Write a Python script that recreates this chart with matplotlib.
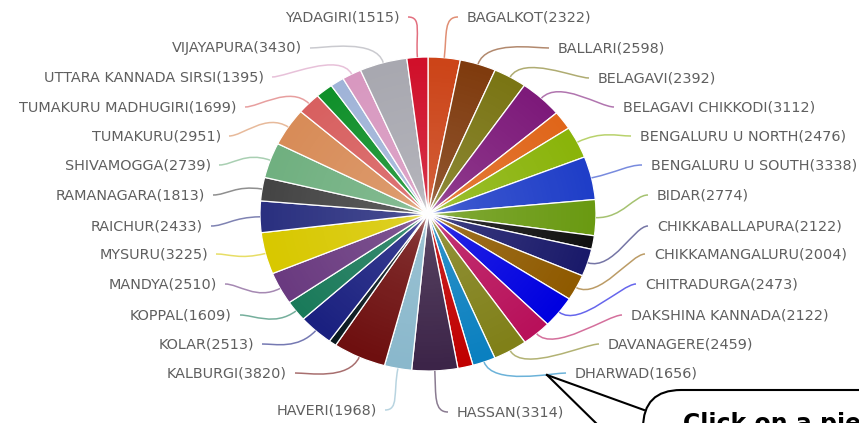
import numpy as np
import matplotlib
matplotlib.use("Agg")
import matplotlib.pyplot as plt
from matplotlib.path import Path
from matplotlib.patches import PathPatch, Circle, FancyBboxPatch

# district-wise counts, clockwise from the top
districts = ['BAGALKOT', 'BALLARI', 'BELAGAVI', 'BELAGAVI CHIKKODI', 'BENGALURU RURAL',
             'BENGALURU U NORTH', 'BENGALURU U SOUTH', 'BIDAR', 'CHAMARAJANAGAR',
             'CHIKKABALLAPURA', 'CHIKKAMANGALURU', 'CHITRADURGA', 'DAKSHINA KANNADA',
             'DAVANAGERE', 'DHARWAD', 'GADAG', 'HASSAN', 'HAVERI', 'KALBURGI', 'KODAGU',
             'KOLAR', 'KOPPAL', 'MANDYA', 'MYSURU', 'RAICHUR', 'RAMANAGARA', 'SHIVAMOGGA',
             'TUMAKURU', 'TUMAKURU MADHUGIRI', 'UDUPI', 'UTTARA KANNADA',
             'UTTARA KANNADA SIRSI', 'VIJAYAPURA', 'YADAGIRI']
counts = [2322, 2598, 2392, 3112, 1450, 2476, 3338, 2774, 1050, 2122, 2004, 2473, 2122,
          2459, 1656, 1100, 3314, 1968, 3820, 550, 2513, 1609, 2510, 3225, 2433, 1813,
          2739, 2951, 1699, 1250, 1000, 1395, 3430, 1515]

colors = ['#cc4418', '#7f3b0e', '#7a7514', '#7d1a7a', '#e0661a', '#8ab40a', '#1f3ec8',
          '#6a9a12', '#111111', '#1a1a6a', '#8f5a00', '#0000e0', '#b8105a', '#808018',
          '#0a80c0', '#c00000', '#3c2448', '#8ab8cc', '#6e0f0f', '#0a1a20', '#1a2080',
          '#1a7a5a', '#6a3a80', '#d8c800', '#2a3080', '#444444', '#70b080', '#d88c58',
          '#d86060', '#10902a', '#a0b4d8', '#d898c0', '#a8a8b0', '#d0102a']

# label placement in pixels: side, anchor x, centre y (hidden labels are left out)
label_pos = {
    'YADAGIRI': ('L', 400, 17), 'VIJAYAPURA': ('L', 302, 48),
    'UTTARA KANNADA SIRSI': ('L', 264, 77), 'TUMAKURU MADHUGIRI': ('L', 237, 107),
    'TUMAKURU': ('L', 221, 136), 'SHIVAMOGGA': ('L', 211, 165),
    'RAMANAGARA': ('L', 205, 195), 'RAICHUR': ('L', 203, 226),
    'MYSURU': ('L', 208, 254), 'MANDYA': ('L', 217, 284),
    'KOPPAL': ('L', 232, 315), 'KOLAR': ('L', 254, 344),
    'KALBURGI': ('L', 287, 373), 'HAVERI': ('L', 377, 410),
    'BAGALKOT': ('R', 467, 17), 'BALLARI': ('R', 558, 48),
    'BELAGAVI': ('R', 598, 78), 'BELAGAVI CHIKKODI': ('R', 623, 107),
    'BENGALURU U NORTH': ('R', 640, 136), 'BENGALURU U SOUTH': ('R', 651, 165),
    'BIDAR': ('R', 657, 195), 'CHIKKABALLAPURA': ('R', 657, 226),
    'CHIKKAMANGALURU': ('R', 654, 254), 'CHITRADURGA': ('R', 645, 284),
    'DAKSHINA KANNADA': ('R', 631, 315), 'DAVANAGERE': ('R', 608, 344),
    'DHARWAD': ('R', 575, 373), 'HASSAN': ('R', 457, 412),
}

W, H = 859, 423
CX, CY, RX, RY = 428, 214, 168, 157


def to_data(px, py):
    return (px - CX) / RX, (CY - py) / RY


fig = plt.figure(figsize=(W / 100, H / 100), dpi=100)
ax = fig.add_axes([0, 0, 1, 1])
wedges, _ = ax.pie(counts, colors=colors, startangle=90, counterclock=False, radius=1,
                   wedgeprops=dict(edgecolor='white', linewidth=0.9))

# white glow in the middle, like the radial gradient
n = 400
g = np.linspace(-1, 1, n)
xx, yy = np.meshgrid(g, g)
rr = np.hypot(xx, yy)
glow = np.ones((n, n, 4))
glow[..., 3] = np.clip(0.95 * np.exp(-rr / 0.05) + 0.15 * (1 - rr), 0, 1)
im = ax.imshow(glow, extent=(-1, 1, -1, 1), aspect='auto', zorder=3,
               interpolation='bilinear')
im.set_clip_path(Circle((0, 0), 1, transform=ax.transData))

# labels and curved connectors
for w, name, val, col in zip(wedges, districts, counts, colors):
    if name not in label_pos:
        continue
    side, lx, ly = label_pos[name]
    mid = np.deg2rad((w.theta1 + w.theta2) / 2)
    p0 = (np.cos(mid), np.sin(mid))
    c1 = (1.16 * np.cos(mid), 1.16 * np.sin(mid))
    if side == 'L':
        ex, hx = lx + 8, lx + 22
    else:
        ex, hx = lx - 9, lx - 23
    path = Path([p0, c1, to_data(hx, ly), to_data(ex, ly)],
                [Path.MOVETO, Path.CURVE4, Path.CURVE4, Path.CURVE4])
    ax.add_patch(PathPatch(path, fc='none', ec=col, lw=1.1, alpha=0.6, clip_on=False))
    tx, ty = to_data(lx, ly)
    ax.text(tx, ty, f"{name}({val})", ha='right' if side == 'L' else 'left',
            va='center', fontsize=10.4, color='#5f5f5f')

ax.set_aspect('auto')
ax.set_xlim(-CX / RX, (W - CX) / RX)
ax.set_ylim(-(H - CY) / RY, CY / RY)
ax.axis('off')

# callout bubble in the corner (pixel coordinates), cut off by the bottom edge
ov = fig.add_axes([0, 0, 1, 1])
ov.set_xlim(0, W)
ov.set_ylim(H, 0)
ov.axis('off')
ov.add_patch(FancyBboxPatch((643, 390), 300, 120, boxstyle='round,pad=0,rounding_size=38',
                            fc='white', ec='black', lw=1.5))
ov.plot([547, 644], [375, 410], color='black', lw=1.5)
ov.plot([547, 603], [375, 430], color='black', lw=1.5)
ov.text(683, 412, 'Click on a pie', fontsize=17, fontweight='bold', color='black',
        va='top', ha='left')

fig.savefig('out.png', dpi=100)
